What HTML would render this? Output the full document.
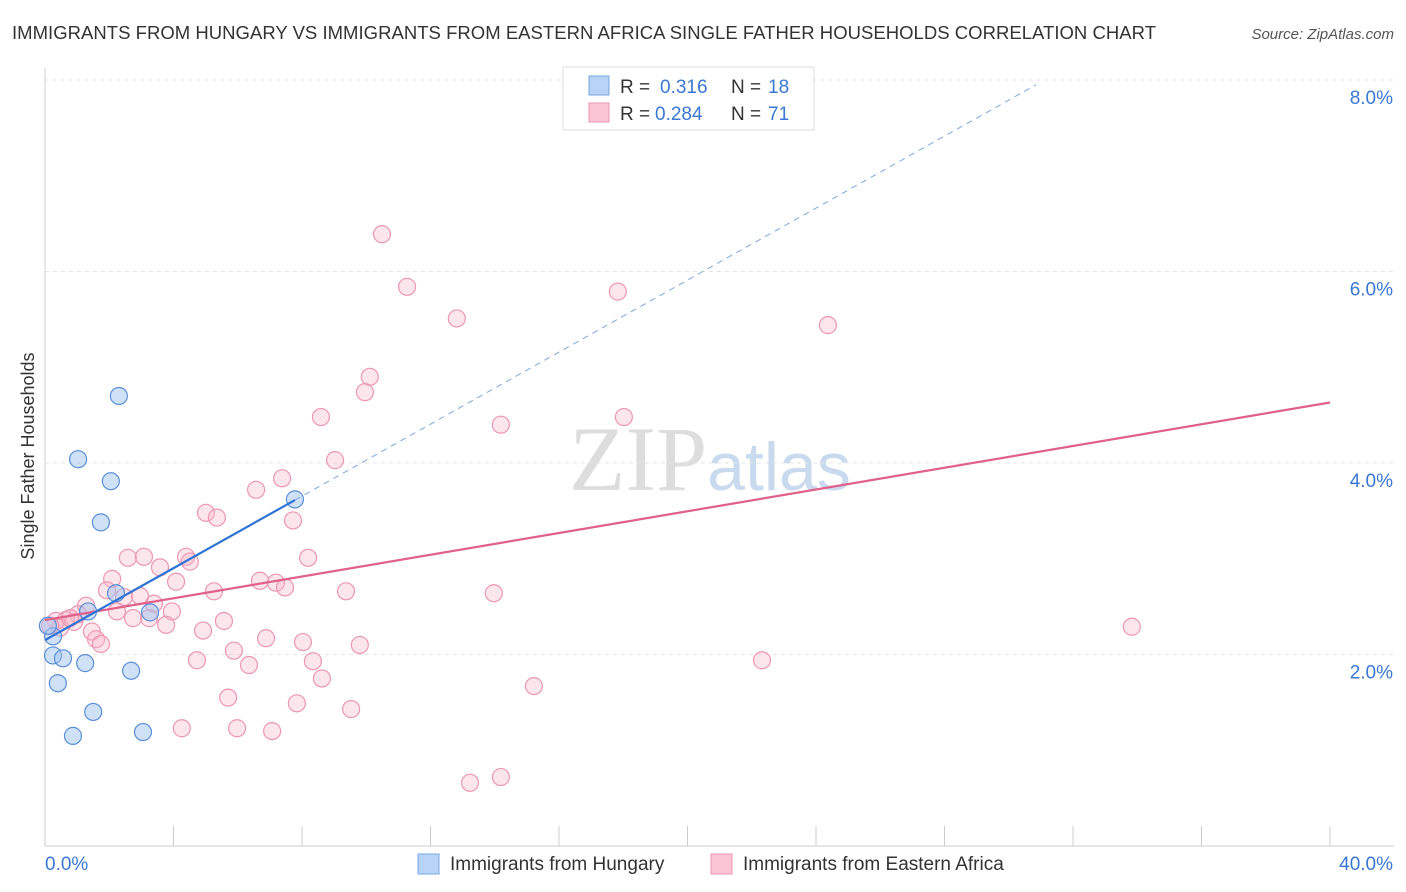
<!DOCTYPE html>
<html><head><meta charset="utf-8"><style>
body{margin:0;background:#fff;font-family:"Liberation Sans",sans-serif;}
svg{display:block}
</style></head><body>
<svg id="chart" width="1406" height="892" xmlns="http://www.w3.org/2000/svg">
<text x="12" y="39" font-size="18.5" fill="#333" textLength="1144">IMMIGRANTS FROM HUNGARY VS IMMIGRANTS FROM EASTERN AFRICA SINGLE FATHER HOUSEHOLDS CORRELATION CHART</text>
<text x="1394" y="39" font-size="15" fill="#555" font-style="italic" text-anchor="end">Source: ZipAtlas.com</text>
<text x="710" y="490" font-size="92" fill="#ddd" text-anchor="middle" font-family="Liberation Serif,serif">ZIP<tspan fill="#c9d9ee" font-family="Liberation Sans,sans-serif" font-size="68">atlas</tspan></text>
<text transform="translate(34,456) rotate(-90)" font-size="18" fill="#333" text-anchor="middle">Single Father Households</text>
<g id="grid"></g><g id="marks"></g>
<g>
<rect x="563" y="67" width="251" height="63" fill="#fff" stroke="#ddd"/>
<rect x="589" y="76" width="20" height="19" fill="#b7d3f5" stroke="#7aa7e0"/>
<rect x="589" y="103" width="20" height="19" fill="#fbc5d5" stroke="#ec97b2"/>
<text x="620" y="93" font-size="19" fill="#333">R =</text>
<text x="660" y="93" font-size="19" fill="#3a78d4">0.316</text>
<text x="731" y="93" font-size="19" fill="#333">N =</text>
<text x="768" y="93" font-size="19" fill="#3a78d4">18</text>
<text x="620" y="120" font-size="19" fill="#333">R =</text>
<text x="655" y="120" font-size="19" fill="#3a78d4">0.284</text>
<text x="731" y="120" font-size="19" fill="#333">N =</text>
<text x="768" y="120" font-size="19" fill="#3a78d4">71</text>
</g>
<g>
<rect x="418" y="854" width="21" height="20" fill="#b7d3f5" stroke="#7aa7e0"/>
<text x="450" y="870" font-size="19" fill="#333">Immigrants from Hungary</text>
<rect x="711" y="854" width="21" height="20" fill="#fbc5d5" stroke="#ec97b2"/>
<text x="743" y="870" font-size="19" fill="#333">Immigrants from Eastern Africa</text>
</g>
</svg>
<script>
const yTicks=[2,4,6,8];
const xTickLabels=["0.0%","40.0%"];
const hungaryX=[0.25,0.25,0.4,0.56,0.87,1.03,1.25,1.5,1.74,2.05,2.21,2.3,2.68,3.05,3.27,7.78,1.34,0.09];
const hungaryY=[2.19,1.99,1.7,1.96,1.15,4.04,1.91,1.4,3.38,3.81,2.64,4.7,1.83,1.19,2.44,3.62,2.45,2.3];
const africaX=[10.49,11.27,17.83,12.82,24.37,10.11,9.96,8.59,18.02,14.19,9.03,7.38,6.57,5.01,5.35,7.72,2.58,3.08,4.39,4.51,8.19,3.58,2.09,4.08,6.69,7.19,7.47,1.93,5.26,9.37,13.97,2.46,3.39,1.28,2.96,3.95,2.24,1.03,2.74,3.24,5.57,3.77,0.65,0.34,0.47,0.9,1.46,4.92,1.59,1.74,6.88,8.03,9.8,5.88,4.73,8.34,22.32,6.35,33.83,8.62,15.22,5.7,7.84,9.53,4.26,5.98,7.07,13.23,14.19,0.16,0.78];
const africaY=[6.39,5.84,5.79,5.51,5.44,4.9,4.74,4.48,4.48,4.4,4.03,3.84,3.72,3.48,3.43,3.4,3.01,3.02,3.02,2.97,3.01,2.91,2.79,2.76,2.77,2.75,2.7,2.67,2.66,2.66,2.64,2.6,2.53,2.51,2.61,2.45,2.45,2.42,2.38,2.38,2.35,2.31,2.36,2.35,2.28,2.34,2.24,2.25,2.16,2.11,2.17,2.13,2.1,2.04,1.94,1.93,1.94,1.89,2.29,1.75,1.67,1.55,1.49,1.43,1.23,1.23,1.2,0.66,0.72,2.3,2.38];
const hungaryTrend=[2.15,0.188];
const africaTrend=[2.36,0.0568];
const NS="http://www.w3.org/2000/svg";
const xs=v=>45+v/40*1285, ys=v=>846-v*95.75;
const grid=document.getElementById('grid'), marks=document.getElementById('marks');
function mk(tag,attrs,parent){const e=document.createElementNS(NS,tag);for(const k in attrs)e.setAttribute(k,attrs[k]);parent.appendChild(e);return e;}
let ax=mk('line',{x1:45,y1:846,x2:1394,y2:846,stroke:'#ccc'},grid);


for(let i=0;i<=10;i++){let t=mk('line',{x1:45+i*128.5,y1:826,x2:45+i*128.5,y2:846,stroke:'#ccc'},grid);

}
let ya=mk('line',{x1:45,y1:68,x2:45,y2:846,stroke:'#ccc'},grid);


yTicks.forEach(v=>{let l=mk('line',{x1:45,y1:ys(v),x2:1394,y2:ys(v),stroke:'#e4e4e4','stroke-dasharray':'4,4'},grid);


let t=mk('text',{x:1393,y:ys(v)+24,'font-size':19,fill:'#3a78d4','text-anchor':'end'},grid);t.textContent=v.toFixed(1)+'%';

});
xTickLabels.forEach((s,i)=>{let t=mk('text',{x:i?1393:45,y:870,'font-size':19,fill:'#3a78d4','text-anchor':i?'end':'start'},grid);t.textContent=s;

});
africaX.forEach((x,i)=>{let c=mk('circle',{cx:xs(x),cy:ys(africaY[i]),r:8.5,fill:'rgba(248,180,200,0.35)',stroke:'#ec97b2','stroke-width':1.2},marks);

});
hungaryX.forEach((x,i)=>{let c=mk('circle',{cx:xs(x),cy:ys(hungaryY[i]),r:8.5,fill:'rgba(160,195,240,0.5)',stroke:'#5a8fd8','stroke-width':1.2},marks);

});
let a=mk('line',{x1:xs(0),y1:ys(africaTrend[0]),x2:xs(40),y2:ys(africaTrend[0]+40*africaTrend[1]),stroke:'#e0608a','stroke-width':2.2},marks);


const hx=Math.max(...hungaryX);
let h=mk('line',{x1:xs(0),y1:ys(hungaryTrend[0]),x2:xs(hx),y2:ys(hungaryTrend[0]+hx*hungaryTrend[1]),stroke:'#2f74d4','stroke-width':2.2},marks);


const xe=(7.95-hungaryTrend[0])/hungaryTrend[1];
let hd=mk('line',{x1:xs(hx),y1:ys(hungaryTrend[0]+hx*hungaryTrend[1]),x2:xs(xe),y2:ys(7.95),stroke:'#7aa7e0','stroke-width':1,'stroke-dasharray':'6,5'},marks);


</script>
</body></html>
